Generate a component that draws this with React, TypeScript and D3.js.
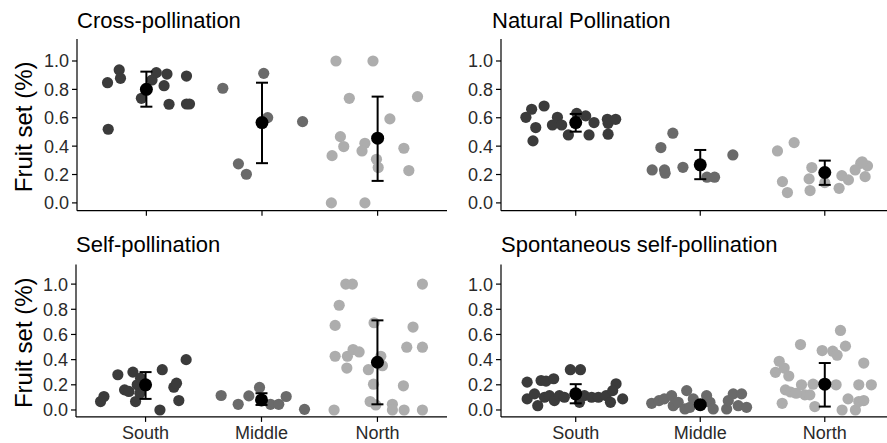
import React from "react";
import * as d3 from "d3";

type Pt = [number, number]; // [jitter offset in category steps, fruit set value]

const regions = ["South", "Middle", "North"];
const yTicks = [0, 0.2, 0.4, 0.6, 0.8, 1.0];
const titles = ["Cross-pollination", "Natural Pollination", "Self-pollination", "Spontaneous self-pollination"];
const yLabel = "Fruit set (%)";
const regionColors = ["#3b3b3b", "#6a6a6a", "#adadad"];

// Cross-pollination
const crossSouth: Pt[] = [[-0.336, 0.847], [-0.235, 0.937], [-0.224, 0.878], [-0.33, 0.519], [-0.043, 0.737], [0.049, 0.866], [0.086, 0.918], [0.178, 0.908], [0.153, 0.826], [0.196, 0.695], [0.347, 0.894], [0.347, 0.697], [0.373, 0.697]];
const crossMiddle: Pt[] = [[-0.339, 0.808], [0.015, 0.913], [-0.204, 0.275], [-0.135, 0.202], [0.049, 0.601], [0.351, 0.573]];
const crossNorth: Pt[] = [[-0.36, 1.0], [-0.04, 1.0], [-0.245, 0.737], [0.345, 0.749], [0.106, 0.592], [-0.322, 0.467], [-0.293, 0.397], [-0.394, 0.333], [-0.11, 0.42], [-0.135, 0.366], [-0.01, 0.307], [0.005, 0.249], [0.227, 0.385], [0.27, 0.228], [-0.4, 0.0], [-0.11, 0.0]];
const crossSummary = [[0.8, 0.678, 0.925], [0.566, 0.28, 0.847], [0.456, 0.155, 0.749]]; // mean, low, high

// Natural pollination
const naturalSouth: Pt[] = [[-0.4, 0.603], [-0.354, 0.66], [-0.254, 0.683], [-0.321, 0.531], [-0.343, 0.437], [-0.187, 0.549], [-0.147, 0.603], [-0.113, 0.549], [-0.059, 0.479], [0.008, 0.631], [0.08, 0.613], [0.147, 0.566], [0.107, 0.479], [0.26, 0.561], [0.26, 0.484], [0.254, 0.589], [0.321, 0.589]];
const naturalMiddle: Pt[] = [[-0.316, 0.39], [-0.22, 0.491], [-0.386, 0.232], [-0.287, 0.232], [-0.282, 0.209], [-0.139, 0.251], [0.054, 0.181], [0.115, 0.181], [0.262, 0.338]];
const naturalNorth: Pt[] = [[-0.38, 0.366], [-0.246, 0.425], [-0.34, 0.15], [-0.3, 0.073], [-0.104, 0.249], [-0.126, 0.169], [-0.118, 0.087], [0.0, 0.143], [0.115, 0.103], [0.137, 0.192], [0.19, 0.162], [0.244, 0.232], [0.289, 0.279], [0.343, 0.261], [0.324, 0.185], [0.3, 0.29]];
const naturalSummary = [[0.566, 0.502, 0.627], [0.268, 0.167, 0.373], [0.214, 0.127, 0.298]];

// Self-pollination
const selfSouth: Pt[] = [[-0.388, 0.067], [-0.359, 0.107], [-0.239, 0.28], [-0.181, 0.16], [-0.144, 0.147], [-0.109, 0.301], [-0.086, 0.067], [-0.072, 0.2], [-0.043, 0.253], [-0.049, 0.133], [0.124, 0.0], [0.144, 0.32], [0.244, 0.181], [0.267, 0.213], [0.287, 0.075], [0.35, 0.4]];
const selfMiddle: Pt[] = [[-0.348, 0.115], [-0.201, 0.045], [-0.109, 0.112], [-0.017, 0.179], [0.078, 0.045], [0.149, 0.045], [0.213, 0.107], [0.371, 0.005]];
const selfNorth: Pt[] = [[-0.374, 0.0], [-0.273, 1.0], [-0.216, 1.0], [-0.33, 0.832], [-0.365, 0.672], [-0.365, 0.427], [-0.259, 0.427], [-0.21, 0.48], [-0.158, 0.461], [-0.264, 0.333], [-0.078, 0.32], [-0.034, 0.205], [-0.029, 0.693], [0.029, 0.427], [0.043, 0.352], [-0.063, 0.067], [-0.014, 0.04], [0.129, 0.045], [0.129, 0.0], [0.23, 0.0], [0.224, 0.192], [0.253, 0.499], [0.307, 0.659], [0.388, 0.499], [0.388, 1.0], [0.388, 0.0]];
const selfSummary = [[0.2, 0.088, 0.301], [0.08, 0.04, 0.133], [0.379, 0.045, 0.712]];

// Spontaneous self-pollination
const spontSouth: Pt[] = [[-0.39, 0.221], [-0.39, 0.088], [-0.331, 0.128], [-0.305, 0.034], [-0.278, 0.234], [-0.251, 0.101], [-0.238, 0.229], [-0.211, 0.114], [-0.177, 0.248], [-0.171, 0.074], [-0.131, 0.114], [-0.091, 0.101], [-0.043, 0.32], [0.038, 0.32], [0.03, 0.061], [0.07, 0.114], [0.128, 0.101], [0.182, 0.101], [0.244, 0.114], [0.279, 0.061], [0.324, 0.208], [0.297, 0.154], [0.377, 0.088]];
const spontMiddle: Pt[] = [[-0.39, 0.053], [-0.331, 0.074], [-0.289, 0.088], [-0.23, 0.114], [-0.217, 0.034], [-0.177, 0.061], [-0.109, 0.154], [-0.123, 0.008], [-0.083, 0.021], [-0.056, 0.088], [0.051, 0.114], [0.078, 0.061], [0.104, 0.008], [0.212, 0.008], [0.225, 0.074], [0.265, 0.128], [0.332, 0.128], [0.305, 0.034], [0.372, 0.021]];
const spontNorth: Pt[] = [[-0.396, 0.299], [-0.366, 0.387], [-0.326, 0.333], [-0.289, 0.27], [-0.316, 0.16], [-0.275, 0.143], [-0.342, 0.053], [-0.195, 0.52], [-0.187, 0.2], [-0.16, 0.12], [-0.12, 0.12], [-0.08, 0.027], [-0.094, 0.205], [-0.021, 0.472], [0.064, 0.467], [0.099, 0.435], [0.091, 0.2], [0.126, 0.632], [0.166, 0.507], [0.139, 0.0], [0.187, 0.088], [0.246, 0.0], [0.273, 0.067], [0.273, 0.2], [0.313, 0.373], [0.313, 0.075], [0.374, 0.2], [-0.23, 0.133]];
const spontSummary = [[0.128, 0.053, 0.205], [0.042, 0.03, 0.055], [0.205, 0.027, 0.373]];

const panelPoints = [
  [crossSouth, crossMiddle, crossNorth],
  [naturalSouth, naturalMiddle, naturalNorth],
  [selfSouth, selfMiddle, selfNorth],
  [spontSouth, spontMiddle, spontNorth],
];
const panelSummaries = [crossSummary, naturalSummary, selfSummary, spontSummary];

const W = 887;
const H = 443;
const FONT = "'Liberation Sans', Arial, Helvetica, sans-serif";

const layout = [
  { x0: 77, x1: 447, yTop: 39, yBot: 210.7, titleX: 77, titleY: 27.5, xLabels: false, yLabel: true },
  { x0: 501, x1: 899.5, yTop: 39, yBot: 210.7, titleX: 492, titleY: 27.5, xLabels: false, yLabel: false },
  { x0: 76, x1: 447, yTop: 264.6, yBot: 416.9, titleX: 76, titleY: 252, xLabels: true, yLabel: true },
  { x0: 501, x1: 899.5, yTop: 264.6, yBot: 416.9, titleX: 501, titleY: 252, xLabels: true, yLabel: false },
];

function Panel({ idx }: { idx: number }) {
  const L = layout[idx];
  const x = d3.scalePoint<string>().domain(regions).range([L.x0, L.x1]).padding(0.6);
  const step = x.step();
  const y = d3.scaleLinear().domain([-0.055, 1.155]).range([L.yBot, L.yTop]);
  const pts = panelPoints[idx];
  const sums = panelSummaries[idx];
  return (
    <g>
      <text x={L.titleX} y={L.titleY} fontSize={22} fontFamily={FONT} fill="#000">{titles[idx]}</text>
      {pts.map((arr, ri) =>
        arr.map((p, i) => (
          <circle key={`${ri}-${i}`} cx={(x(regions[ri]) as number) + p[0] * step} cy={y(p[1])} r={5.6} fill={regionColors[ri]} />
        ))
      )}
      {sums.map((s, ri) => {
        const cx = x(regions[ri]) as number;
        return (
          <g key={`s${ri}`} stroke="#000" strokeWidth={2}>
            <line x1={cx} x2={cx} y1={y(s[1])} y2={y(s[2])} />
            <line x1={cx - 6} x2={cx + 6} y1={y(s[1])} y2={y(s[1])} />
            <line x1={cx - 6} x2={cx + 6} y1={y(s[2])} y2={y(s[2])} />
            <circle cx={cx} cy={y(s[0])} r={6.5} fill="#000" stroke="none" />
          </g>
        );
      })}
      <line x1={L.x0} x2={L.x0} y1={L.yTop} y2={L.yBot} stroke="#000" strokeWidth={1.2} />
      <line x1={L.x0} x2={L.x1} y1={L.yBot} y2={L.yBot} stroke="#000" strokeWidth={1.2} />
      {yTicks.map((t) => (
        <g key={`yt${t}`}>
          <line x1={L.x0 - 5} x2={L.x0} y1={y(t)} y2={y(t)} stroke="#000" strokeWidth={1.2} />
          <text x={L.x0 - 8} y={y(t)} dy="0.36em" textAnchor="end" fontSize={18} fontFamily={FONT} fill="#2a2a2a">
            {t.toFixed(1)}
          </text>
        </g>
      ))}
      {regions.map((r) => (
        <g key={`xt${r}`}>
          <line x1={x(r)} x2={x(r)} y1={L.yBot} y2={L.yBot + 5} stroke="#000" strokeWidth={1.2} />
          {L.xLabels && (
            <text x={x(r)} y={438.5} textAnchor="middle" fontSize={18} fontFamily={FONT} fill="#2a2a2a">{r}</text>
          )}
        </g>
      ))}
      {L.yLabel && (
        <text transform={`translate(32,${(L.yTop + L.yBot) / 2 + 2}) rotate(-90)`} textAnchor="middle" fontSize={24} fontFamily={FONT} fill="#000">
          {yLabel}
        </text>
      )}
    </g>
  );
}

export default function App() {
  return (
    <svg width={W} height={H} style={{ position: "absolute", left: 0, top: 0, background: "#fff" }}>
      <rect width={W} height={H} fill="#fff" />
      {layout.map((_, i) => (
        <Panel key={i} idx={i} />
      ))}
    </svg>
  );
}
